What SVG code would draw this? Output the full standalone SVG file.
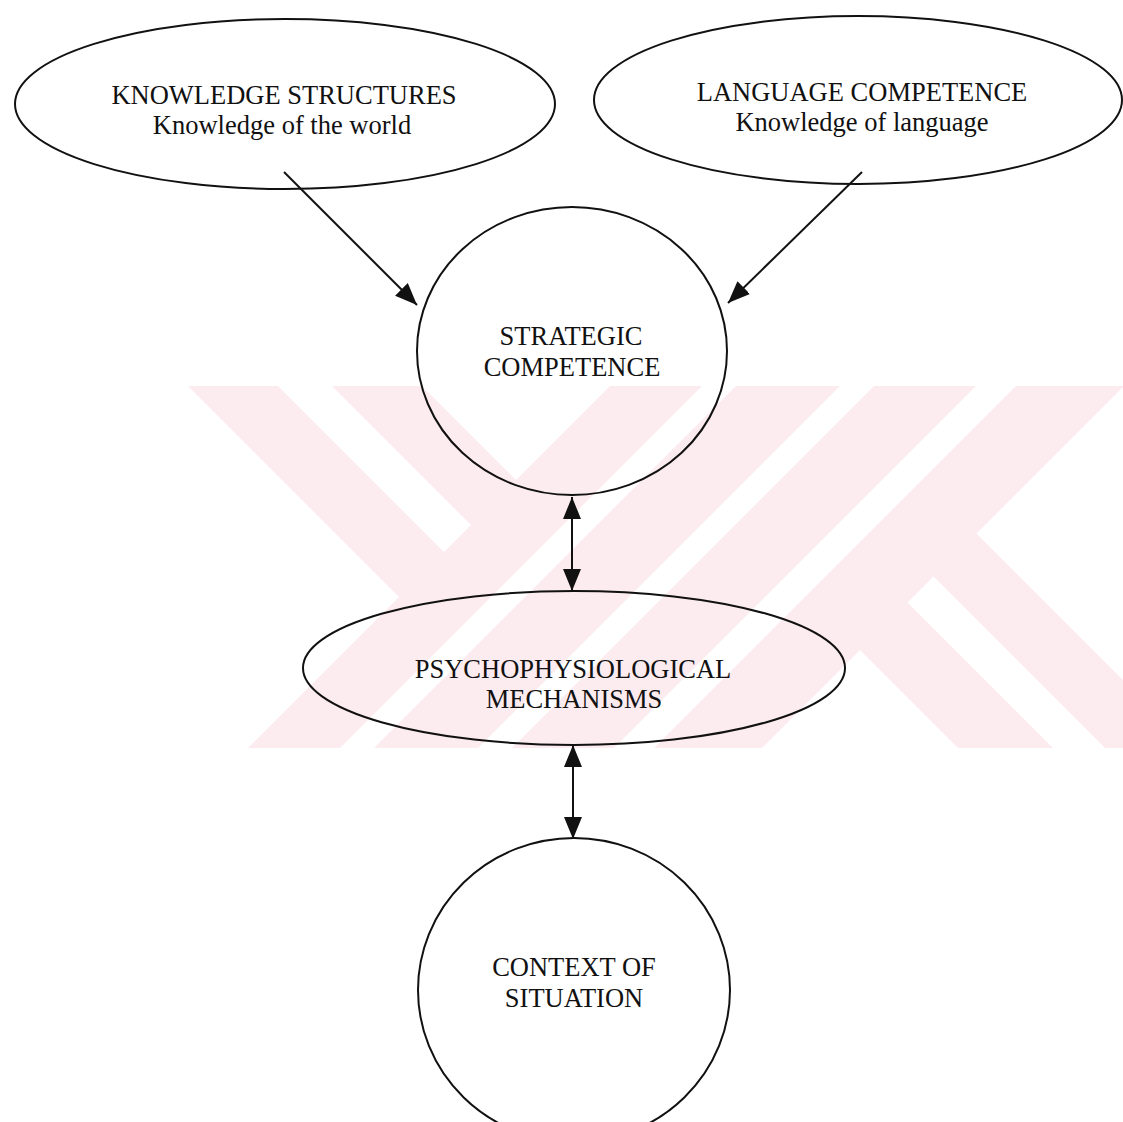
<svg xmlns="http://www.w3.org/2000/svg" width="1123" height="1122" viewBox="0 0 1123 1122">
<style>
  .wm { fill: #fcebef; stroke: none; }
  .node { fill: none; stroke: #111; stroke-width: 2; }
  .lbl { font-family: "Liberation Serif", "Times New Roman", serif; font-size: 26.5px; fill: #111; text-anchor: middle; }
  .conn { stroke: #111; stroke-width: 2; fill: none; }
</style>
<defs>
  <marker id="ah" markerUnits="userSpaceOnUse" markerWidth="24" markerHeight="20" refX="22" refY="9" orient="auto-start-reverse">
    <path d="M0,0 L22,9 L0,18 z" fill="#111"/>
  </marker>
</defs>
<rect width="1123" height="1122" fill="#ffffff"/>
<g id="watermark">
  <polygon class="wm" points="188,386 278,386 445,553 400,598"/>
  <polygon class="wm" points="332,386 422,386 517,481 472,526"/>
  <polygon class="wm" points="610,386 702,386 340,748 248,748"/>
  <polygon class="wm" points="736,386 840,386 478,748 374,748"/>
  <polygon class="wm" points="874,386 976,386 614,748 512,748"/>
  <polygon class="wm" points="1016,386 1124,386 762,748 654,748"/>
  <polygon class="wm" points="860,650 907.5,602.5 1053,748 958,748"/>
  <polygon class="wm" points="933.5,576.5 976.5,533.5 1191,748 1105,748"/>
</g>
<g id="connectors">
  <line class="conn" x1="284" y1="172" x2="417" y2="305" marker-end="url(#ah)"/>
  <line class="conn" x1="862" y1="172" x2="728" y2="303" marker-end="url(#ah)"/>
  <line class="conn" x1="572" y1="497" x2="572" y2="591" marker-start="url(#ah)" marker-end="url(#ah)"/>
  <line class="conn" x1="573" y1="745" x2="573" y2="839" marker-start="url(#ah)" marker-end="url(#ah)"/>
</g>
<g id="knowledge-structures">
  <ellipse class="node" cx="285" cy="104" rx="270" ry="85"/>
  <text class="lbl" x="284" y="104">KNOWLEDGE STRUCTURES</text>
  <text class="lbl" x="282" y="134">Knowledge of the world</text>
</g>
<g id="language-competence">
  <ellipse class="node" cx="858" cy="100" rx="264" ry="84"/>
  <text class="lbl" x="862" y="101">LANGUAGE COMPETENCE</text>
  <text class="lbl" x="862" y="131">Knowledge of language</text>
</g>
<g id="strategic-competence">
  <ellipse class="node" cx="572" cy="351" rx="155" ry="144"/>
  <text class="lbl" x="571" y="345">STRATEGIC</text>
  <text class="lbl" x="572" y="376">COMPETENCE</text>
</g>
<g id="psychophysiological-mechanisms">
  <ellipse class="node" cx="574" cy="668" rx="271" ry="77"/>
  <text class="lbl" x="573" y="678">PSYCHOPHYSIOLOGICAL</text>
  <text class="lbl" x="574" y="708">MECHANISMS</text>
</g>
<g id="context-of-situation">
  <ellipse class="node" cx="574" cy="990" rx="156" ry="152"/>
  <text class="lbl" x="574" y="976">CONTEXT OF</text>
  <text class="lbl" x="574" y="1007">SITUATION</text>
</g>
</svg>
